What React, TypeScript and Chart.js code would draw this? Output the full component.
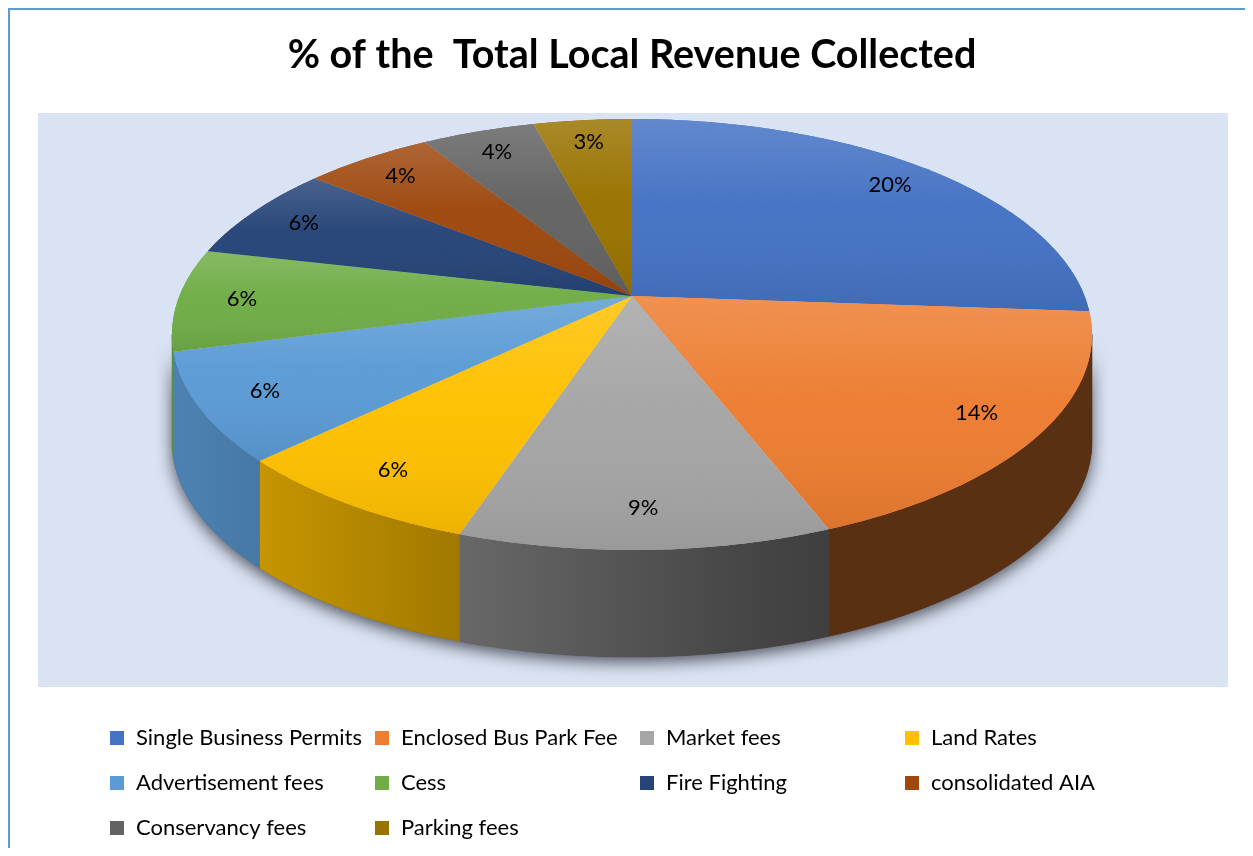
import React, { useEffect, useRef } from "react";
import { Chart, registerables } from "chart.js";

Chart.register(...registerables);

const categories = [
  "Single Business Permits",
  "Enclosed Bus Park Fee",
  "Market fees",
  "Land Rates",
  "Advertisement fees",
  "Cess",
  "Fire Fighting",
  "consolidated AIA",
  "Conservancy fees",
  "Parking fees",
];
// shares (consistent with the rounded labels)
const shares = [20.4, 14.0, 8.6, 6.0, 6.3, 6.0, 5.6, 4.2, 3.7, 3.2];
const shareLabels = ["20%", "14%", "9%", "6%", "6%", "6%", "6%", "4%", "4%", "3%"];
const baseColors = [
  "#4472C4",
  "#ED7D31",
  "#A5A5A5",
  "#FFC000",
  "#5B9BD5",
  "#70AD47",
  "#264478",
  "#9E480E",
  "#636363",
  "#997300",
];
const chartTitle = "% of the  Total Local Revenue Collected";

const FONT = "Lato, 'Open Sans', sans-serif";

// perspective view of the pie disc (canvas coordinates; canvas sits at page offset 10,10)
const VIEW = { x0: 622, y0: 286, a: 452.6, b: 208.6, p: 0.1787, depth: 107 };
const LEGEND_COLS = [126, 391, 656, 921];
const LEGEND_ROWS = [728, 773, 818];
const LEGEND_ORDER = [
  [0, 1, 2, 3],
  [4, 5, 6, 7],
  [8, 9],
];

function rgbOf(hex: string): number[] {
  const n = parseInt(hex.slice(1), 16);
  return [(n >> 16) & 255, (n >> 8) & 255, n & 255];
}
function shade(hex: string, f: number): string {
  const [r, g, b] = rgbOf(hex);
  return `rgb(${Math.round(r * f)},${Math.round(g * f)},${Math.round(b * f)})`;
}
function wallFactor(x: number): number {
  const px = x + 10;
  return Math.max(0.38, 0.83 - (px - 185) * 0.000724);
}
// projection of a disc point (angle, relative radius) to the screen
function proj(theta: number, r = 1): [number, number] {
  const c = Math.cos(theta) * r;
  const s = Math.sin(theta) * r;
  const w = 1 - VIEW.p * s;
  return [VIEW.x0 + (VIEW.a * c) / w, VIEW.y0 + (VIEW.b * s) / w];
}

function slicePath(ctx: CanvasRenderingContext2D, s0: number, s1: number) {
  const apex = proj(0, 0);
  const m = Math.max(8, Math.ceil((s1 - s0) / 0.02));
  let ymin = apex[1];
  let ymax = apex[1];
  ctx.beginPath();
  ctx.moveTo(apex[0], apex[1]);
  for (let k = 0; k <= m; k++) {
    const [x, y] = proj(s0 + ((s1 - s0) * k) / m);
    ctx.lineTo(x, y);
    ymin = Math.min(ymin, y);
    ymax = Math.max(ymax, y);
  }
  ctx.closePath();
  return [ymin, ymax];
}

const pie3dPlugin = {
  id: "pie3d",
  beforeDraw(chart: any) {
    const { ctx, chartArea } = chart;
    ctx.save();
    ctx.fillStyle = "#DAE3F3";
    ctx.fillRect(chartArea.left, chartArea.top, chartArea.width, chartArea.height);
    ctx.restore();
  },
  beforeDatasetsDraw(chart: any) {
    const ctx = chart.ctx;
    const meta = chart.getDatasetMeta(0);
    const D = VIEW.depth;
    const tR = Math.asin(VIEW.p);
    const tL = Math.PI - tR;
    const band = (a0: number, a1: number, n: number) => {
      ctx.beginPath();
      for (let k = 0; k <= n; k++) {
        const [x, y] = proj(a0 + ((a1 - a0) * k) / n);
        if (k === 0) ctx.moveTo(x, y);
        else ctx.lineTo(x, y);
      }
      for (let k = n; k >= 0; k--) {
        const [x, y] = proj(a0 + ((a1 - a0) * k) / n);
        ctx.lineTo(x, y + D);
      }
      ctx.closePath();
    };
    // soft shadow below the side wall
    ctx.save();
    band(tR, tL, 120);
    ctx.shadowColor = "rgba(20,20,30,0.7)";
    ctx.shadowBlur = 16;
    ctx.shadowOffsetY = 5;
    ctx.fillStyle = "#444";
    ctx.fill();
    ctx.restore();

    // side walls of each slice
    meta.data.forEach((el: any, i: number) => {
      const a0 = Math.max(el.startAngle, tR);
      const a1 = Math.min(el.endAngle, tL);
      if (a1 <= a0) return;
      const n = Math.max(6, Math.ceil(((a1 - a0) / Math.PI) * 120));
      ctx.save();
      band(a0, a1, n);
      const xl = proj(a1)[0];
      const xr = proj(a0)[0];
      const g = ctx.createLinearGradient(xl, 0, xr + 0.01, 0);
      for (let s = 0; s <= 4; s++) {
        const x = xl + ((xr - xl) * s) / 4;
        g.addColorStop(s / 4, shade(baseColors[i], wallFactor(x)));
      }
      ctx.fillStyle = g;
      ctx.fill();
      ctx.strokeStyle = g;
      ctx.lineWidth = 0.6;
      ctx.stroke();
      ctx.restore();
    });
  },
  beforeDatasetDraw(chart: any) {
    const ctx = chart.ctx;
    const meta = chart.getDatasetMeta(0);
    const apex = proj(0, 0);
    const step = (6 * Math.PI) / 180;
    const eps = 0.006;
    meta.data.forEach((el: any, i: number) => {
      const ox = el.x;
      const oy = el.y;
      const R = el.outerRadius;
      const s0 = el.startAngle;
      const s1 = el.endAngle;
      // underlay in the slice colour so that piece joins stay invisible
      ctx.save();
      slicePath(ctx, s0 + 0.002, s1 - 0.002);
      ctx.fillStyle = baseColors[i];
      ctx.fill();
      ctx.restore();
      const n = Math.max(1, Math.ceil((s1 - s0) / step));
      for (let k = 0; k < n; k++) {
        const a = s0 + ((s1 - s0) * k) / n;
        const b = s0 + ((s1 - s0) * (k + 1)) / n;
        const pa = proj(a);
        const pb = proj(b);
        const dax = pa[0] - apex[0];
        const day = pa[1] - apex[1];
        const dbx = pb[0] - apex[0];
        const dby = pb[1] - apex[1];
        const ca = Math.cos(a);
        const sa = Math.sin(a);
        const cb = Math.cos(b);
        const sb = Math.sin(b);
        const det = ca * sb - cb * sa;
        const m11 = (dax * sb - dbx * sa) / det;
        const m12 = (-dax * cb + dbx * ca) / det;
        const m21 = (day * sb - dby * sa) / det;
        const m22 = (-day * cb + dby * ca) / det;
        const ta = m11 / R;
        const tb = m21 / R;
        const tc = m12 / R;
        const td = m22 / R;
        const te = apex[0] - (ta * ox + tc * oy);
        const tf = apex[1] - (tb * ox + td * oy);
        ctx.save();
        ctx.transform(ta, tb, tc, td, te, tf);
        ctx.beginPath();
        const mid = (a + b) / 2;
        ctx.moveTo(ox - Math.cos(mid) * 2, oy - Math.sin(mid) * 2);
        ctx.arc(ox, oy, R * 1.3, a - eps, b + eps);
        ctx.closePath();
        ctx.clip();
        el.draw(ctx);
        ctx.restore();
      }
      // light-to-dark shading of the slice's top face
      ctx.save();
      const [ymin, ymax] = slicePath(ctx, s0, s1);
      const g = ctx.createLinearGradient(0, ymin, 0, ymax + 0.01);
      g.addColorStop(0, "rgba(255,255,255,0.16)");
      g.addColorStop(0.45, "rgba(255,255,255,0.02)");
      g.addColorStop(1, "rgba(0,0,0,0.07)");
      ctx.fillStyle = g;
      ctx.fill();
      ctx.restore();
    });
    return false;
  },
  afterDatasetsDraw(chart: any) {
    const ctx = chart.ctx;
    const meta = chart.getDatasetMeta(0);
    ctx.save();
    ctx.font = `22px ${FONT}`;
    ctx.fillStyle = "#000";
    ctx.textAlign = "center";
    ctx.textBaseline = "middle";
    meta.data.forEach((el: any, i: number) => {
      const mid = (el.startAngle + el.endAngle) / 2;
      const [x, y] = proj(mid, 0.86);
      ctx.fillText(shareLabels[i], x, y);
    });
    ctx.restore();
  },
  afterDraw(chart: any) {
    const ctx = chart.ctx;
    ctx.save();
    ctx.fillStyle = "#000";
    ctx.textAlign = "center";
    ctx.textBaseline = "middle";
    ctx.font = `bold 39.5px ${FONT}`;
    ctx.fillText(chartTitle, 622, 45);
    ctx.font = `22px ${FONT}`;
    ctx.textAlign = "left";
    LEGEND_ORDER.forEach((row, r) => {
      row.forEach((idx, c) => {
        const x = LEGEND_COLS[c];
        const y = LEGEND_ROWS[r];
        ctx.fillStyle = baseColors[idx];
        ctx.fillRect(x - 26, y - 7, 14, 14);
        ctx.fillStyle = "#000";
        ctx.fillText(categories[idx], x, y);
      });
    });
    ctx.restore();
  },
};

export default function App() {
  const ref = useRef<HTMLCanvasElement | null>(null);
  useEffect(() => {
    if (!ref.current) return;
    const chart = new Chart(ref.current, {
      type: "pie",
      data: {
        labels: categories,
        datasets: [
          {
            data: shares,
            clip: false as any,
            borderWidth: 0,
            backgroundColor: baseColors,
          } as any,
        ],
      },
      options: {
        responsive: false,
        animation: false,
        events: [],
        layout: { padding: { left: 28, top: 103, right: 17, bottom: 161 } },
        plugins: {
          legend: { display: false },
          title: { display: false },
          tooltip: { enabled: false },
        },
      },
      plugins: [pie3dPlugin],
    });
    return () => chart.destroy();
  }, []);

  return (
    <div
      style={{
        width: 1237,
        height: 840,
        boxSizing: "border-box",
        borderLeft: "2px solid #5B9BD5",
        borderTop: "2px solid #5B9BD5",
        overflow: "hidden",
        background: "#fff",
      }}
    >
      <canvas ref={ref} width={1235} height={838} style={{ display: "block" }} />
    </div>
  );
}
